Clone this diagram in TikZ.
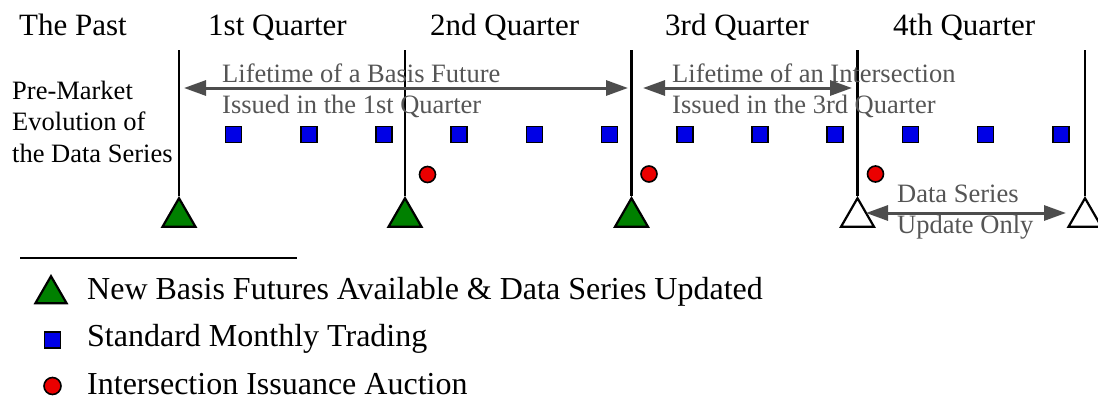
\documentclass[tikz,border=0pt]{standalone}
\usepackage{fontspec}
\setmainfont{Liberation Serif}
\usetikzlibrary{arrows.meta,shapes.geometric}
\definecolor{arrgray}{RGB}{77,77,77}
\definecolor{txtgray}{RGB}{85,85,85}
\definecolor{trigreen}{RGB}{0,128,0}
\definecolor{sqblue}{RGB}{0,0,230}
\definecolor{dotred}{RGB}{235,0,0}
\begin{document}
\begin{tikzpicture}[x=1pt,y=-1pt,
  bigtext/.style={inner sep=0pt,anchor=base west,font=\fontsize{31}{37}\selectfont},
  legtext/.style={inner sep=0pt,anchor=base west,font=\fontsize{32}{38}\selectfont},
  graytext/.style={inner sep=0pt,anchor=base west,text=txtgray,font=\fontsize{26.5}{31.5}\selectfont},
  lefttext/.style={inner sep=0pt,anchor=base west,font=\fontsize{26.5}{31.5}\selectfont},
  qline/.style={line width=2.6pt,black},
  tri/.style={regular polygon,regular polygon sides=3,draw=black,line width=2.2pt,inner sep=0pt,minimum size=38pt,anchor=corner 1},
  gtri/.style={tri,fill=trigreen},
  wtri/.style={tri,fill=white},
  sq/.style={rectangle,draw=black,line width=1.6pt,fill=sqblue,inner sep=0pt,minimum size=16pt},
  dot/.style={circle,draw=black,line width=1.6pt,fill=dotred,inner sep=0pt,minimum size=16pt},
  span/.style={arrgray,line width=3pt,{Triangle[length=22pt,width=15pt]}-{Triangle[length=22pt,width=15pt]}}
]
\useasboundingbox (0,0) rectangle (1098,399);

% header labels
\node[bigtext] (past) at (19,35) {The Past};
\node[bigtext] (q1) at (208,35) {1st Quarter};
\node[bigtext] (q2) at (430,35) {2nd Quarter};
\node[bigtext] (q3) at (665,35) {3rd Quarter};
\node[bigtext] (q4) at (893,35) {4th Quarter};

% left text
\node[lefttext] (pm1) at (12,99) {Pre-Market};
\node[lefttext] (pm2) at (12,130.5) {Evolution of};
\node[lefttext] (pm3) at (12,162) {the Data Series};

% quarter lines
\foreach \i/\x in {1/179,2/405,3/631.5,4/857.5,5/1085}{
  \coordinate (t\i) at (\x,50);
  \coordinate (b\i) at (\x,196);
  \draw[qline] (t\i) -- (b\i);
}

% triangles
\node[gtri] (tr1) at (b1) {};
\node[gtri] (tr2) at (b2) {};
\node[gtri] (tr3) at (b3) {};
\node[wtri] (tr4) at (b4) {};
\node[wtri] (tr5) at (b5) {};

% squares
\foreach \k in {0,...,11}{
  \node[sq] (s\k) at ({233.5+75.2*\k},134.5) {};
}

% red dots
\node[dot] (d1) at (427.5,174.5) {};
\node[dot] (d2) at (649,174) {};
\node[dot] (d3) at (875.5,174) {};

% lifetime arrows
\coordinate (a1l) at (184,88);
\coordinate (a1r) at (628,88);
\coordinate (a2l) at (643,88);
\coordinate (a2r) at (852,88);
\coordinate (a3l) at (866,213);
\coordinate (a3r) at (1066,213);
\draw[span] (a1l) -- (a1r);
\draw[span] (a2l) -- (a2r);
\draw[span] (a3l) -- (a3r);

\node[graytext] (l1a) at (222,82) {Lifetime of a Basis Future};
\node[graytext] (l1b) at (222,113) {Issued in the 1st Quarter};
\node[graytext] (l2a) at (672,82) {Lifetime of an Intersection};
\node[graytext] (l2b) at (672,113) {Issued in the 3rd Quarter};
\node[graytext] (l3a) at (897,202) {Data Series};
\node[graytext] (l3b) at (897,233) {Update Only};

% legend
\coordinate (lg1) at (20,258);
\coordinate (lg2) at (297,258);
\draw[line width=2pt] (lg1) -- (lg2);
\node[gtri,minimum size=36pt] (ltri) at (51,274) {};
\node[sq] (lsq) at (52.5,340) {};
\node[dot,minimum size=17pt] (ldot) at (52.5,386) {};
\node[legtext] (lt1) at (87,299) {New Basis Futures Available \& Data Series Updated};
\node[legtext] (lt2) at (87,346) {Standard Monthly Trading};
\node[legtext] (lt3) at (87,394) {Intersection Issuance Auction};
\end{tikzpicture}
\end{document}
